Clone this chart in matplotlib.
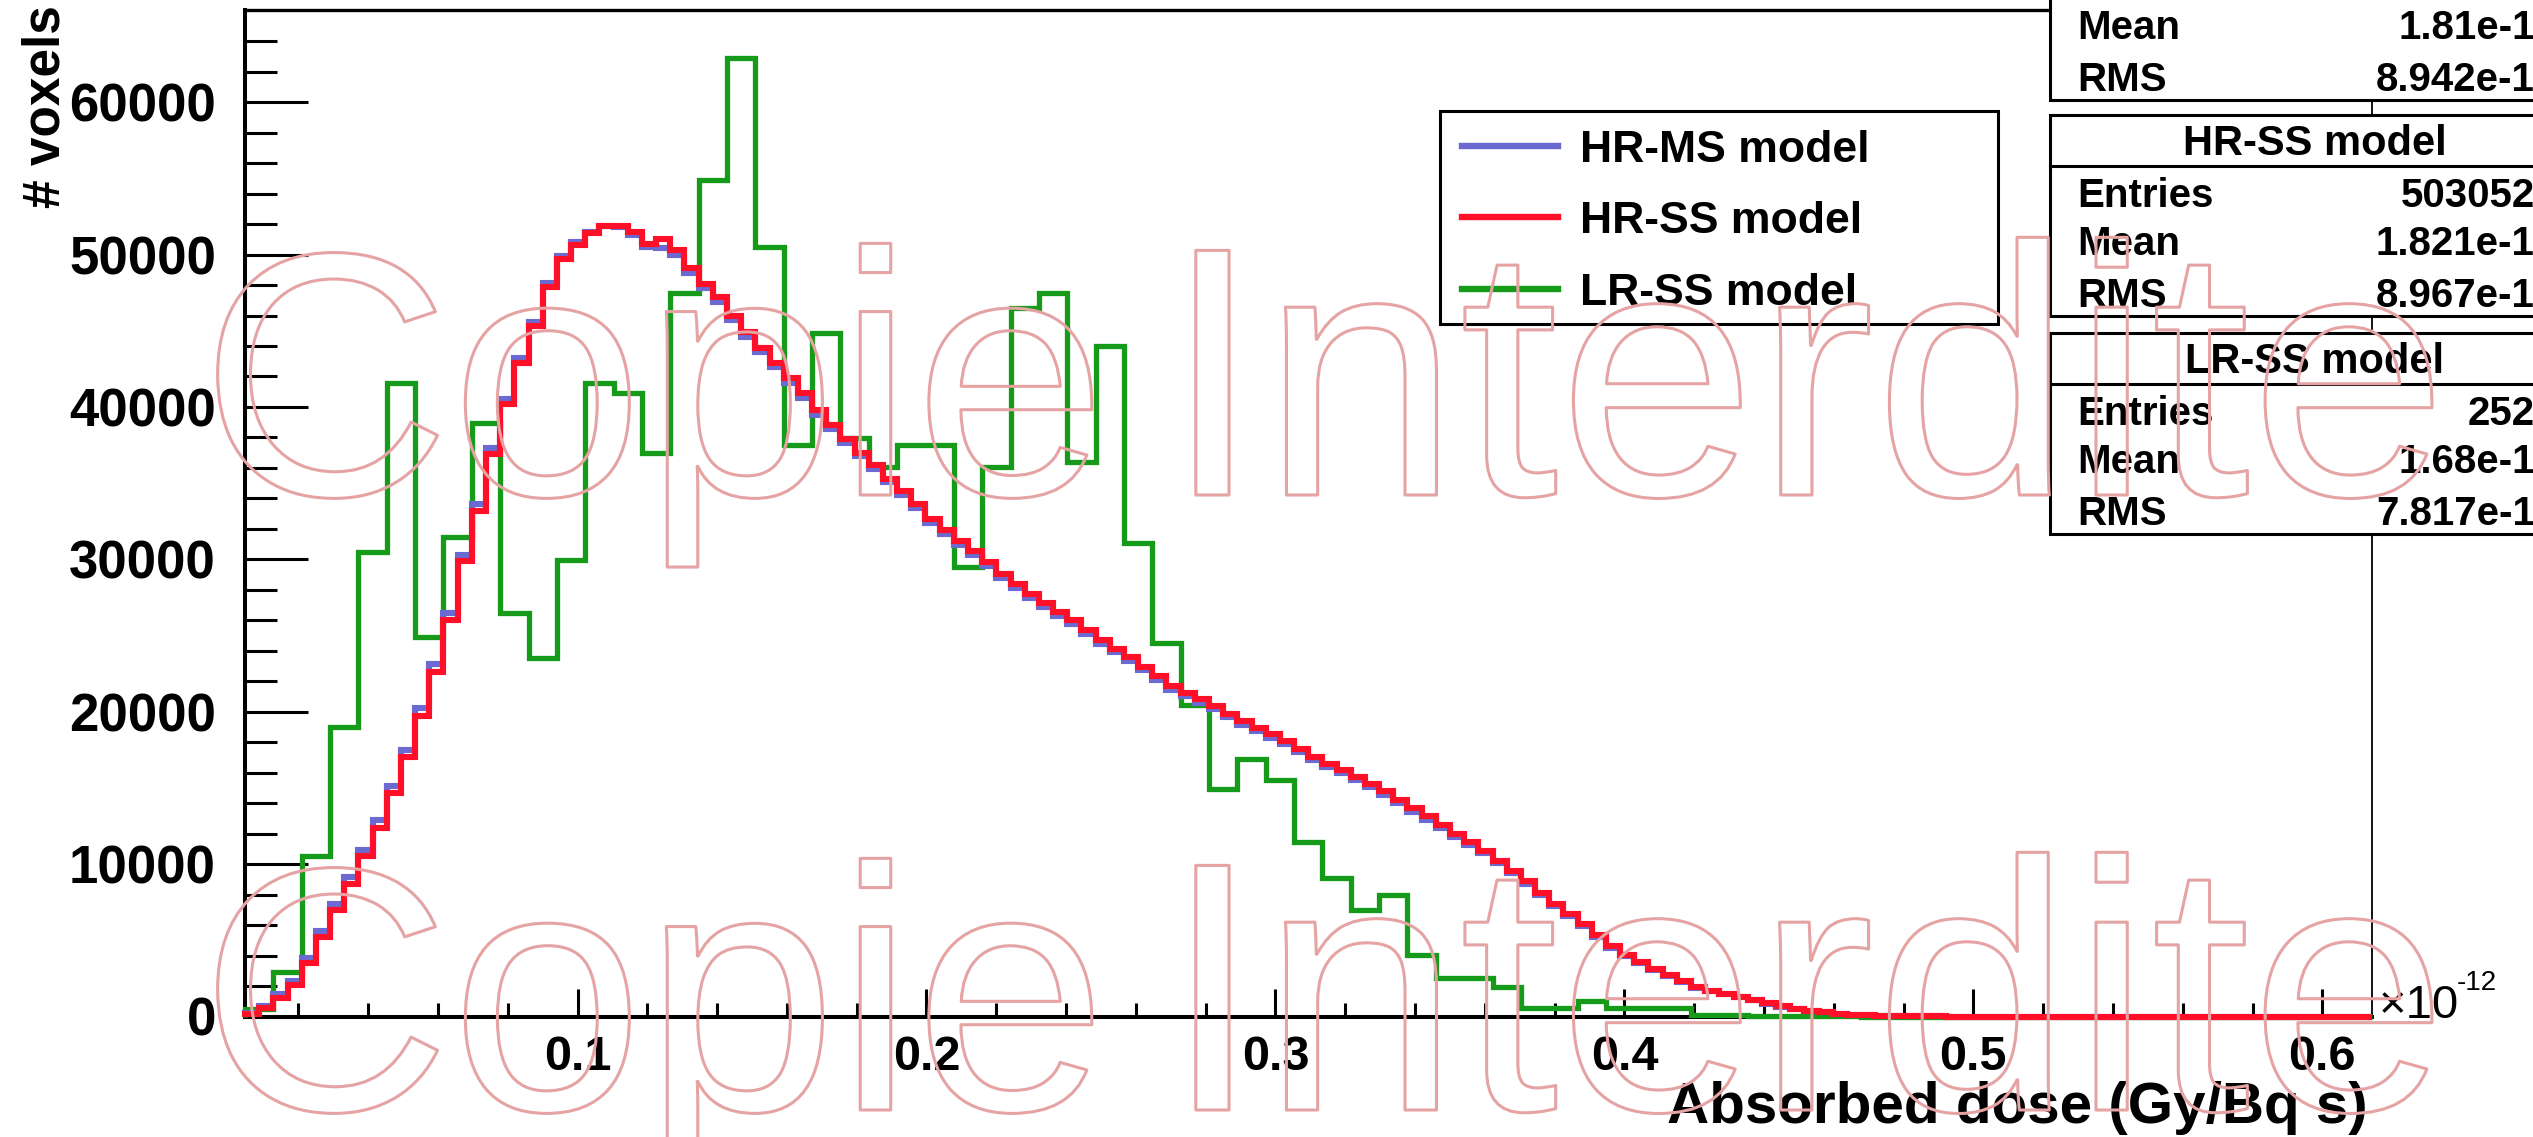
import numpy as np
import matplotlib.pyplot as plt
from matplotlib.patches import Rectangle
from matplotlib.lines import Line2D
import matplotlib.patheffects as pe

plt.rcParams['font.family'] = ['Liberation Sans', 'DejaVu Sans']
plt.rcParams['font.weight'] = 'bold'

# histogram range (units of 1e-12 Gy/Bq s)
x_lo, x_hi = 0.0047, 0.6141

# LR-SS model, 75 bins
lr_ss = [500, 2930, 10530, 19020, 30500, 41560, 24920, 31450, 38940, 26460,
         23510, 29960, 41560, 40900, 36970, 47470, 54910, 62900, 50530, 37510,
         44850, 37950, 36090, 37510, 37510, 29520, 36090, 46490, 47470, 36420,
         43970, 31060, 24490, 20440, 14900, 16870, 15510, 11460, 9060, 6980,
         7960, 4020, 2500, 2500, 1940, 590, 590, 1020, 590, 590,
         590, 120, 90, 60, 40, 20, 10, 0, 0, 0,
         0, 0, 0, 0, 0, 0, 0, 0, 0, 0,
         0, 0, 0, 0, 0]

# HR-SS model, 150 bins
hr_ss = [150, 560, 1230, 2040, 3500, 5200, 6960, 8700, 10500, 12400,
         14640, 17000, 19750, 22580, 26000, 29860, 33200, 36900, 40200, 42900,
         45300, 47900, 49700, 50650, 51400, 51900, 51900, 51500, 50700, 51000,
         50300, 49100, 48100, 47200, 46000, 44900, 43900, 42900, 41900, 40900,
         39800, 38800, 37900, 37000, 36200, 35300, 34500, 33600, 32650, 31900,
         31200, 30550, 29800, 29050, 28400, 27700, 27120, 26550, 26000, 25350,
         24700, 24120, 23560, 22960, 22330, 21660, 21240, 20820, 20350, 19860,
         19370, 18940, 18520, 18070, 17550, 17040, 16600, 16180, 15730, 15260,
         14780, 14240, 13680, 13130, 12560, 12000, 11440, 10880, 10230, 9580,
         8860, 8110, 7400, 6750, 6100, 5350, 4600, 4050, 3580, 3140,
         2700, 2300, 1950, 1700, 1500, 1300, 1090, 880, 680, 500,
         380, 280, 190, 120, 80, 50, 35, 20, 10, 5,
         0, 0, 0, 0, 0, 0, 0, 0, 0, 0,
         0, 0, 0, 0, 0, 0, 0, 0, 0, 0,
         0, 0, 0, 0, 0, 0, 0, 0, 0, 0]

# HR-MS model, 150 bins
hr_ms = [200, 700, 1450, 2350, 3850, 5600, 7350, 9150, 10950, 12900,
         15150, 17500, 20250, 23100, 26500, 30300, 33650, 37300, 40550, 43200,
         45600, 48150, 49900, 50800, 51500, 51900, 51800, 51300, 50500, 50400,
         50000, 48800, 47800, 46900, 45700, 44600, 43600, 42600, 41600, 40600,
         39500, 38550, 37650, 36750, 35950, 35050, 34250, 33350, 32400, 31650,
         30950, 30300, 29550, 28800, 28150, 27450, 26900, 26300, 25750, 25100,
         24450, 23900, 23350, 22750, 22100, 21450, 21000, 20600, 20150, 19650,
         19150, 18750, 18300, 17850, 17350, 16850, 16400, 15950, 15500, 15050,
         14550, 14000, 13450, 12900, 12350, 11800, 11250, 10700, 10050, 9400,
         8700, 7950, 7250, 6600, 5950, 5200, 4500, 3950, 3500, 3050,
         2650, 2250, 1900, 1650, 1450, 1250, 1050, 850, 650, 480,
         360, 270, 180, 110, 75, 45, 30, 18, 9, 4,
         0, 0, 0, 0, 0, 0, 0, 0, 0, 0,
         0, 0, 0, 0, 0, 0, 0, 0, 0, 0,
         0, 0, 0, 0, 0, 0, 0, 0, 0, 0]

labels = ["HR-MS model", "HR-SS model", "LR-SS model"]
colors = ["#6a6ad2", "#ff1028", "#169a1a"]

x_ticks = [0.1, 0.2, 0.3, 0.4, 0.5, 0.6]
x_tick_labels = ["0.1", "0.2", "0.3", "0.4", "0.5", "0.6"]
y_ticks = [0, 10000, 20000, 30000, 40000, 50000, 60000]
y_tick_labels = ["0", "10000", "20000", "30000", "40000", "50000", "60000"]

stats = [
    ("HR-MS model", [("Mean", "1.81e-13"), ("RMS", "8.942e-14")]),
    ("HR-SS model", [("Entries", "5030528"), ("Mean", "1.821e-13"), ("RMS", "8.967e-14")]),
    ("LR-SS model", [("Entries", "2520"), ("Mean", "1.68e-13"), ("RMS", "7.817e-14")]),
]

W, H = 2533, 1137
fig = plt.figure(figsize=(W / 100, H / 100), dpi=100)

def fx(px):
    return px / W

def fy(py):
    return 1 - py / H

ax = fig.add_axes([fx(245), fy(1016.5), fx(2371.5) - fx(245), fy(10) - fy(1016.5)])

lr_edges = np.linspace(x_lo, x_hi, len(lr_ss) + 1)
hr_edges = np.linspace(x_lo, x_hi, len(hr_ss) + 1)

ax.stairs(lr_ss, lr_edges, color=colors[2], lw=3.8, zorder=3, clip_on=False)
ax.stairs(hr_ms, hr_edges, color=colors[0], lw=4.4, zorder=4, clip_on=False)
ax.stairs(hr_ss, hr_edges, color=colors[1], lw=4.4, zorder=5, clip_on=False)

ax.set_xlim(x_lo, x_hi)
ax.set_ylim(0, 66050)
ax.set_xticks(x_ticks, labels=x_tick_labels)
ax.set_xticks(np.arange(0.02, 0.61, 0.02), minor=True)
ax.set_yticks(y_ticks, labels=y_tick_labels)
ax.set_yticks(np.arange(2000, 66000, 2000), minor=True)

ax.tick_params(axis='y', which='major', direction='in', length=45, width=2.2, pad=21, labelsize=38)
ax.tick_params(axis='y', which='minor', direction='in', length=23, width=2.2)
ax.tick_params(axis='x', which='major', direction='in', length=20, width=2.2, pad=13, labelsize=35)
ax.tick_params(axis='x', which='minor', direction='in', length=10, width=2.2)

ax.spines['left'].set_linewidth(2.9)
ax.spines['bottom'].set_linewidth(2.9)
ax.spines['top'].set_linewidth(2.4)
ax.spines['right'].set_linewidth(1.3)

# axis titles
fig.text(fx(2368), fy(1123), "Absorbed dose (Gy/Bq s)", ha='right', va='baseline', fontsize=42)
fig.text(fx(46), fy(5), "# voxels", rotation=90, ha='center', va='top', fontsize=37)
fig.text(fx(2379), fy(1018), "\u00d710", ha='left', va='baseline', fontsize=34, fontweight='normal')
fig.text(fx(2457), fy(990), "-12", ha='left', va='baseline', fontsize=20, fontweight='normal')

# legend box
fig.add_artist(Rectangle((fx(1440), fy(324)), fx(1998) - fx(1440), fy(111) - fy(324),
                         transform=fig.transFigure, facecolor='white', edgecolor='black', lw=2.2, zorder=6))
for i, (lab, col) in enumerate(zip(labels, colors)):
    yc = fy(146 + i * 71.3)
    fig.add_artist(Line2D([fx(1462), fx(1558)], [yc, yc], transform=fig.transFigure,
                          color=col, lw=4.6, zorder=7))
    fig.text(fx(1580), yc, lab, ha='left', va='center_baseline', fontsize=32, zorder=7)

# stat boxes
box_bottoms = [100, 316, 534]
for (title, rows), bot in zip(stats, box_bottoms):
    top = bot - 201
    fig.add_artist(Rectangle((fx(2050), fy(bot)), fx(2650) - fx(2050), fy(top) - fy(bot),
                             transform=fig.transFigure, facecolor='white', edgecolor='black',
                             lw=2.2, zorder=6))
    fig.add_artist(Line2D([fx(2050), fx(2650)], [fy(top + 51), fy(top + 51)],
                          transform=fig.transFigure, color='black', lw=2.2, zorder=7))
    fig.text(fx(2315), fy(top + 40), title, ha='center', va='baseline', fontsize=30, zorder=7)
    row_base = [top + 92, top + 140, top + 192]
    for (name, val), yb in zip(rows, row_base[3 - len(rows):]):
        fig.text(fx(2077), fy(yb), name, ha='left', va='baseline', fontsize=29, zorder=7)
        fig.text(fx(2557), fy(yb), val, ha='right', va='baseline', fontsize=29, zorder=7)

# watermark
wm_stroke = [pe.Stroke(linewidth=2.2, foreground='#e5a3a3')]
for yb in [495, 1110]:
    fig.text(fx(200), fy(yb), "Copie", ha='left', va='baseline', fontsize=250,
             fontweight='normal', color='none', zorder=10, path_effects=wm_stroke)
    fig.text(fx(1163), fy(yb), "Interdite", ha='left', va='baseline', fontsize=256,
             fontweight='normal', color='none', zorder=10, path_effects=wm_stroke)

fig.savefig("out.png", dpi=100)
